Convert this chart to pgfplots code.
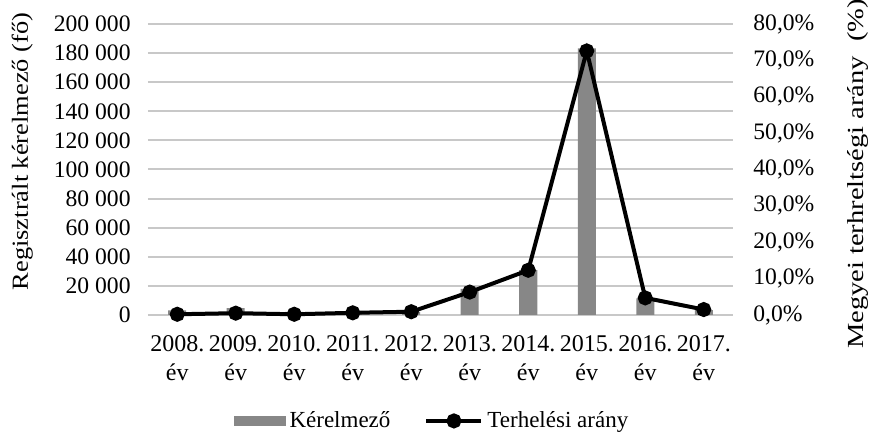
\documentclass[12pt,border=0pt]{standalone}
\usepackage{fontspec}
\setmainfont{Liberation Serif}
\usepackage{pgfplots}
\pgfplotsset{compat=1.18}
\definecolor{barg}{RGB}{135,135,135}
\definecolor{gridg}{RGB}{200,200,200}
\begin{document}
\begin{tikzpicture}
\begin{axis}[
  at={(0,0)}, anchor=south west,
  scale only axis, width=292.5pt, height=145.5pt,
  xmin=-0.5, xmax=9.5, ymin=0, ymax=200000,
  axis x line=none,
  axis y line*=left, y axis line style={draw=none},
  xtick=\empty,
  scaled y ticks=false,
  ytick={0,20000,...,200000},
  yticklabels={0,20\ 000,40\ 000,60\ 000,80\ 000,100\ 000,120\ 000,140\ 000,160\ 000,180\ 000,200\ 000},
  major tick length=0pt,
  yticklabel style={anchor=east, xshift=-4.5pt, font={\fontsize{11.8}{14}\selectfont}},
  ymajorgrids, grid style={gridg, line width=1pt},
  ylabel={Regisztrált kérelmező (fő)},
  ylabel style={at={(axis description cs:-0.215,0.562)}, anchor=center, rotate=0, xscale=1.15, font={\fontsize{11.5}{14}\selectfont}},
  clip=false,
]
\addplot[ybar, bar width=9pt, fill=barg, draw=none] coordinates {
(0,3100) (1,4700) (2,2100) (3,1700) (4,2200) (5,18000) (6,30800) (7,183300) (8,11500) (9,3300)};
\end{axis}
\begin{axis}[
  at={(0,0)}, anchor=south west,
  scale only axis, width=292.5pt, height=145.5pt,
  xmin=-0.5, xmax=9.5, ymin=0, ymax=80,
  axis y line*=right, y axis line style={draw=none},
  axis x line*=bottom, x axis line style={draw=none},
  xtick={0,...,9},
  xticklabels={{2008.\\év},{2009.\\év},{2010.\\év},{2011.\\év},{2012.\\év},{2013.\\év},{2014.\\év},{2015.\\év},{2016.\\év},{2017.\\év}},
  xticklabel style={align=center, anchor=north, yshift=-6pt, font={\fontsize{12}{14.5}\selectfont}},
  ytick={0,10,...,80},
  yticklabels={{0,0\%},{10,0\%},{20,0\%},{30,0\%},{40,0\%},{50,0\%},{60,0\%},{70,0\%},{80,0\%}},
  yticklabel style={anchor=west, xshift=6pt, font={\fontsize{11.8}{14}\selectfont}},
  major tick length=0pt,
  ylabel={Megyei terhreltségi arány\ \ (\%)},
  ylabel style={at={(axis description cs:1.214,0.485)}, anchor=center, rotate=0, xscale=1.24, font={\fontsize{11.5}{14}\selectfont}},
  legend style={at={(axis description cs:0.487,-0.364)}, anchor=center, draw=none, legend columns=2, /tikz/every even column/.append style={column sep=15pt}, inner sep=0pt, font={\fontsize{11.5}{14}\selectfont}},
  clip=false,
]
\addlegendimage{area legend, fill=barg, draw=none, legend image code/.code={\fill[barg] (0pt,-2.5pt) rectangle (26pt,2.5pt);}}
\addlegendentry{Kérelmező}
\addplot[black, line width=2pt, mark=*, mark size=2.75pt,
  legend image code/.code={\draw[black, line width=2pt] (0pt,0pt) -- (27.5pt,0pt); \fill[black] (13.75pt,0pt) circle (2.75pt);}] coordinates {
(0,0.2) (1,0.5) (2,0.2) (3,0.6) (4,0.9) (5,6.3) (6,12.3) (7,72.6) (8,4.7) (9,1.5)};
\addlegendentry{Terhelési arány}
\end{axis}
\pgfresetboundingbox
\path[use as bounding box] (-74pt,-58.5pt) rectangle (361.5pt,157.5pt);
\end{tikzpicture}
\end{document}
